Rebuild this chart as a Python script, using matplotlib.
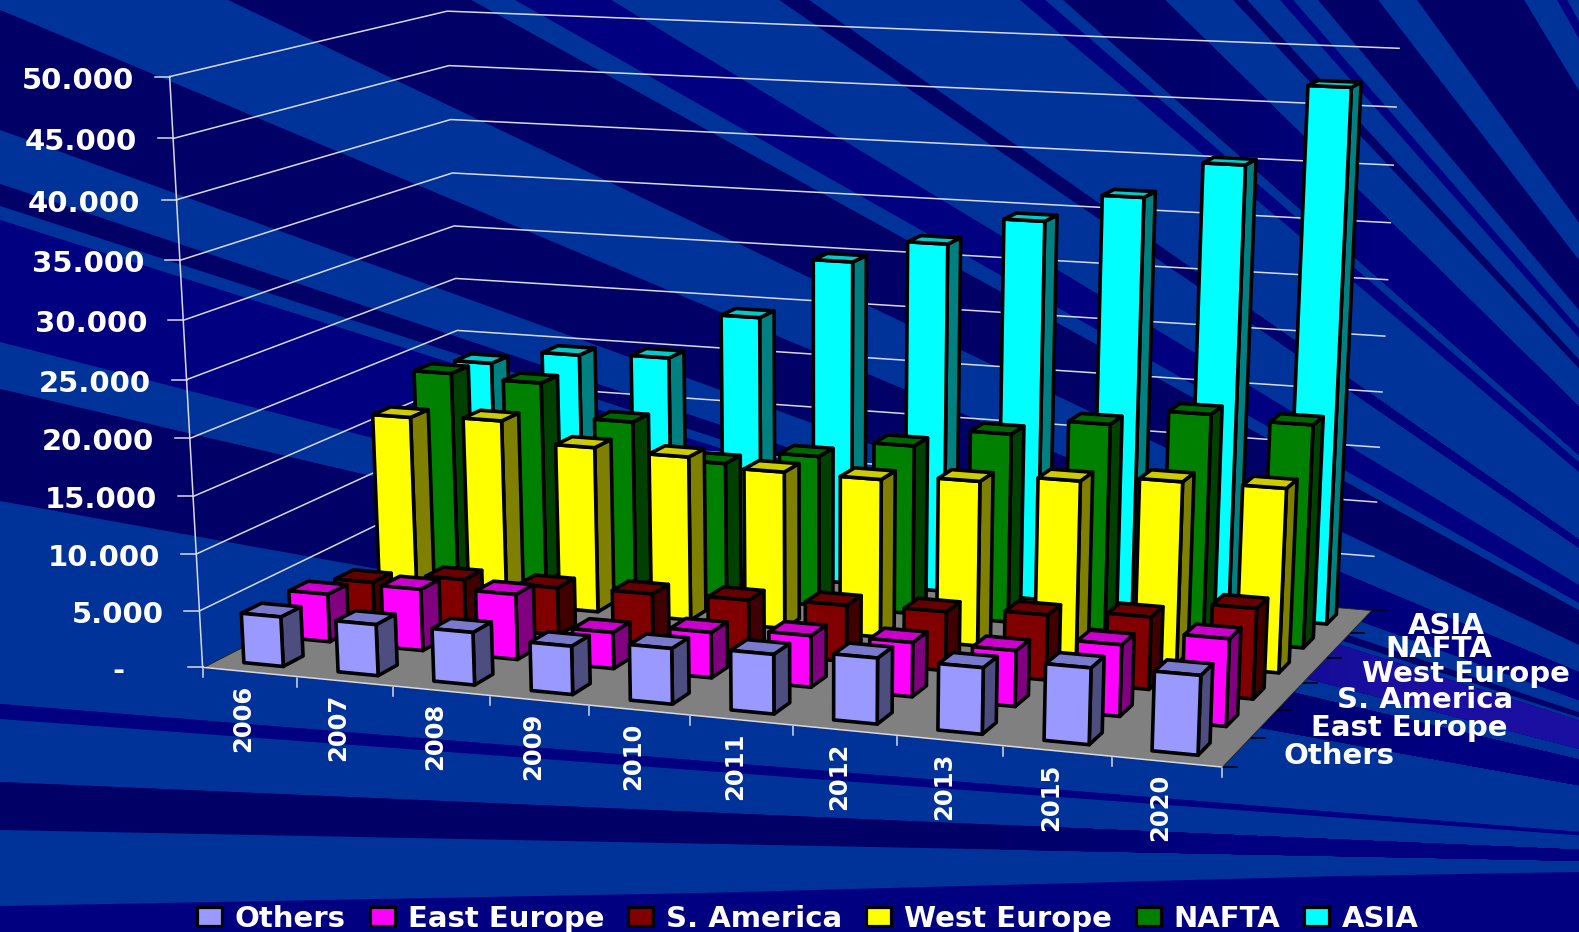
"""
Script: plot.py

Description:
    Vehicle production by region as a 3D column chart on a blue ray background.
"""

#%% -------- IMPORTS --------
import numpy as np
import matplotlib
matplotlib.use('Agg')
import matplotlib.pyplot as plt
from matplotlib.colors import to_rgb
from matplotlib.patches import Patch, Polygon
from mpl_toolkits.mplot3d.art3d import Poly3DCollection

#%% -------- DATA --------
years = ['2006', '2007', '2008', '2009', '2010', '2011', '2012', '2013', '2015', '2020']
regions = ['Others', 'East Europe', 'S. America', 'West Europe', 'NAFTA', 'ASIA']

others = [4400, 4500, 4600, 4200, 4800, 5100, 5600, 5600, 6400, 6600]
east_europe = [4300, 5500, 5800, 3200, 4000, 4500, 4700, 4800, 6100, 7400]
s_america = [3300, 4300, 4300, 4500, 4700, 5000, 5200, 5700, 6300, 7800]
west_europe = [16600, 16900, 15100, 14900, 14200, 14200, 14700, 15400, 16000, 16100]
nafta = [19000, 18700, 15700, 12500, 13800, 15400, 17100, 18600, 20100, 19800]
asia = [18350, 19700, 20000, 24300, 29900, 32000, 34500, 37050, 40300, 47300]
series = [others, east_europe, s_america, west_europe, nafta, asia]

z_ticks = [0, 5000, 10000, 15000, 20000, 25000, 30000, 35000, 40000, 45000, 50000]
z_labels = ['-', '5.000', '10.000', '15.000', '20.000', '25.000',
            '30.000', '35.000', '40.000', '45.000', '50.000']

# front / top / side colour of every series
front_cols = ['#9999ff', '#ff00ff', '#800000', '#ffff00', '#008000', '#00ffff']
top_cols = ['#7a7acc', '#cc00cc', '#660000', '#cccc00', '#006600', '#00cccc']
side_cols = ['#4d4d80', '#800080', '#400000', '#808000', '#004000', '#008080']

BRIGHT, DARK, MID, PURPLE = '#003399', '#000066', '#000080', '#1a0fa0'

#%% -------- CAMERA --------
W, H = 1579, 932
n_x, n_y = len(years), len(regions)
bar_w = 0.42
bar_d = 0.42

# pixel positions of known chart corners, (x slot, y row, z in units) -> (px, py)
cal_world = np.array([
    [0, 0, 0], [1, 0, 0], [2, 0, 0], [4, 0, 0], [9, 0, 0], [10, 0, 0],
    [10, 1, 0], [10, 2, 0], [10, 3, 0], [10, 4, 0], [10, 5, 0], [10, 6, 0],
    [0, 0, 10000], [0, 0, 20000], [0, 0, 30000], [0, 0, 40000], [0, 0, 50000],
    [0, 6, 25000], [0, 6, 35000], [0, 6, 50000],
    [10, 6, 30000], [10, 6, 35000], [10, 6, 50000]], dtype=float)
cal_px = np.array([
    [203, 668], [296, 677], [392, 686], [589, 706], [1110, 756], [1222, 766],
    [1249, 737], [1276, 710], [1303, 684], [1328, 658], [1351, 633], [1369, 609],
    [197, 554], [192, 437], [183, 321], [176, 199], [169, 77],
    [455, 278], [452, 173], [448, 11],
    [1386, 281], [1389, 223], [1401, 48]], dtype=float)

# direct linear transform, last coefficient fixed to 1
rows, rhs = [], []
for (X, Y, Z), (u, v) in zip(cal_world, cal_px):
    rows.append([X, Y, Z, 1, 0, 0, 0, 0, -u*X, -u*Y, -u*Z])
    rows.append([0, 0, 0, 0, X, Y, Z, 1, -v*X, -v*Y, -v*Z])
    rhs += [u, v]
coef = np.linalg.lstsq(np.array(rows), np.array(rhs), rcond=None)[0]
P = np.append(coef, 1.0).reshape(3, 4)


def project(x, y, z):
    p = P @ np.array([x, y, z, 1.0])
    return p[0]/p[2], p[1]/p[2]


#%% -------- FIGURE --------
fig = plt.figure(figsize=(W/100, H/100), dpi=100, facecolor=MID)

# pixel axes under the 3D scene for background and labels
bg = fig.add_axes([0, 0, 1, 1], zorder=0)
bg.set_xlim(0, W)
bg.set_ylim(H, 0)
bg.axis('off')

ax = fig.add_axes([0, 0, 1, 1], projection='3d', computed_zorder=False, zorder=1)
ax.patch.set_alpha(0)
ax.set_axis_off()
ax.apply_aspect = lambda position=None: None


def fitted_proj():
    # pixels -> axes data, then depth row so that far faces sort first
    A = ax.transData.inverted().get_matrix() @ np.array([[1, 0, 0], [0, -1, H], [0, 0, 1]])
    M = np.zeros((4, 4))
    M[0] = A[0, 0]*P[0] + A[0, 1]*P[1] + A[0, 2]*P[2]
    M[1] = A[1, 0]*P[0] + A[1, 1]*P[1] + A[1, 2]*P[2]
    M[2] = [0, 0, 0, -1]
    M[3] = P[2]
    return M


ax.get_proj = fitted_proj

#%% -------- BACKGROUND RAYS --------
cx, cy = 2050, 870
top = lambda x: (x, 0)
left = lambda y: (0, y)


def ray_at(p, x):
    # point of the ray through p at column x
    return (x, cy + (p[1] - cy) * (cx - x) / (cx - p[0]))


bands = [
    (top(1567), top(1579), BRIGHT), (top(1557), top(1567), MID), (top(1524), top(1557), BRIGHT),
    (top(1417), top(1524), DARK), (top(1378), top(1417), BRIGHT), (top(1318), top(1378), DARK),
    (top(1293), top(1318), BRIGHT), (top(1280), top(1293), MID), (top(1247), top(1280), BRIGHT),
    (top(1233), top(1247), DARK), (top(1165), top(1233), BRIGHT), (top(1063), top(1165), DARK),
    (top(1045), top(1063), BRIGHT), (top(1020), top(1045), MID), (top(809), top(1020), BRIGHT),
    (top(779), top(809), DARK), (top(611), top(779), BRIGHT), (top(515), top(611), MID),
    (top(471), top(515), BRIGHT), (top(228), top(471), DARK), (left(10), top(228), BRIGHT),
    (left(130), left(10), DARK), (left(184), left(130), BRIGHT), (left(206), left(184), DARK),
    (left(220), left(206), BRIGHT), (left(342), left(220), MID), (left(389), left(342), BRIGHT),
    (left(501), left(389), DARK), (left(704), left(501), BRIGHT), (left(719), left(704), MID),
    (left(782), left(719), BRIGHT), (left(830), left(782), DARK), (left(940), left(830), BRIGHT),
]
for p1, p2, col in bands:
    q1 = (cx + 1.1*(p1[0]-cx), cy + 1.1*(p1[1]-cy))
    q2 = (cx + 1.1*(p2[0]-cx), cy + 1.1*(p2[1]-cy))
    bg.add_patch(Polygon([(cx, cy), q1, q2], closed=True, fc=col, ec='none', zorder=1))

# rays that fade to another blue towards the right, (edge, edge, start column, from, to)
right_rays = [
    (top(1063), top(1165), 1150, DARK, MID), (top(779), top(809), 1200, DARK, MID),
    (left(130), left(10), 1200, DARK, MID), (left(342), left(220), 1150, MID, PURPLE),
    (left(501), left(389), 1200, DARK, MID), (left(830), left(782), 1000, DARK, MID),
]
n_fade = 12
for p1, p2, x_start, col_a, col_b in right_rays:
    for k in range(n_fade):
        x = x_start + k * 20
        t = (k + 1) / n_fade
        col = tuple((1 - t) * np.array(to_rgb(col_a)) + t * np.array(to_rgb(col_b)))
        bg.add_patch(Polygon([(cx, cy), ray_at(p1, x), ray_at(p2, x)],
                             closed=True, fc=col, ec='none', zorder=2 + k * 0.01))

# bottom band under the legend
bg.add_patch(Polygon([(0, 906), (700, 893), (1340, 876), (1579, 872), (1579, 898), (1340, 900),
                      (1000, 932), (0, 932)], closed=True, fc=MID, ec='none', zorder=3))

#%% -------- WALLS AND FLOOR --------
grid_col = '#d8d8e8'
floor = [[(0, 0, 0), (n_x, 0, 0), (n_x, n_y, 0), (0, n_y, 0)]]
ax.add_collection3d(Poly3DCollection(floor, facecolors='#808080', edgecolors='#202020',
                                     linewidths=0.6, zorder=1))
ax.plot([0, n_x], [0, 0], [0, 0], color=grid_col, lw=1.1, zorder=2)
ax.plot([0, 0], [0, 0], [0, z_ticks[-1]], color=grid_col, lw=1.1, zorder=2)

for z in z_ticks[1:]:
    ax.plot([0, 0, n_x], [0, n_y, n_y], [z, z, z], color=grid_col, lw=1.1, zorder=1.5)

#%% -------- BARS --------
clear = (0, 0, 0, 0)
zo = 3
for j in range(n_y - 1, -1, -1):
    faces = [clear, top_cols[j], front_cols[j], clear, clear, side_cols[j]]
    edges = [clear, 'black', 'black', clear, clear, 'black']
    for i in range(n_x):
        ax.bar3d(i + 0.5 - bar_w/2, j + 0.5 - bar_d/2, 0, bar_w, bar_d, series[j][i],
                 color=faces, edgecolor=edges, linewidth=2.6, shade=False, zorder=zo)
        zo += 1

#%% -------- TICKS AND LABELS --------
for z, lab in zip(z_ticks, z_labels):
    px, py = project(0, 0, z)
    bg.plot([px - 15, px], [py, py], color=grid_col, lw=1.1, zorder=5)
    lab_x = px - 78 if z == 0 else px - 36
    bg.text(lab_x, py + 4, lab, color='white', fontsize=21, fontweight='bold',
            family='DejaVu Sans', ha='right', va='center', zorder=6)

bx, by = project(0, 0, 0)
bg.plot([bx, bx], [by, by + 10], color=grid_col, lw=1.1, zorder=5)
for i, year in enumerate(years):
    px, py = project(i + 1, 0, 0)
    bg.plot([px, px], [py, py + 10], color=grid_col, lw=1.1, zorder=5)
    px, py = project(i + 0.5, 0, 0)
    bg.text(px - 6, py + 46, year, color='white', fontsize=17.5, fontweight='bold',
            family='DejaVu Sans', rotation=90, ha='center', va='center', zorder=6)

for j in range(n_y + 1):
    px, py = project(n_x, j, 0)
    bg.plot([px, px + 15], [py, py], color='black', lw=1.1, zorder=5)

for j, region in enumerate(regions):
    px, py = project(n_x, j + 0.5, 0)
    bg.text(px + 48, py + 4, region, color='white', fontsize=21, fontweight='bold',
            family='DejaVu Sans', ha='left', va='center', zorder=6)

#%% -------- LEGEND --------
handles = [Patch(facecolor=c, edgecolor='black', linewidth=2.3) for c in front_cols]
leg = fig.legend(handles, regions, ncol=6, loc='lower left', bbox_to_anchor=(197/W, -1/H),
                 frameon=False, labelcolor='white', handlelength=0.85,
                 handleheight=0.62, handletextpad=0.45, columnspacing=0.82,
                 borderpad=0, borderaxespad=0,
                 prop={'family': 'DejaVu Sans', 'weight': 'bold', 'size': 21})

plt.savefig('out.png', dpi=100)
